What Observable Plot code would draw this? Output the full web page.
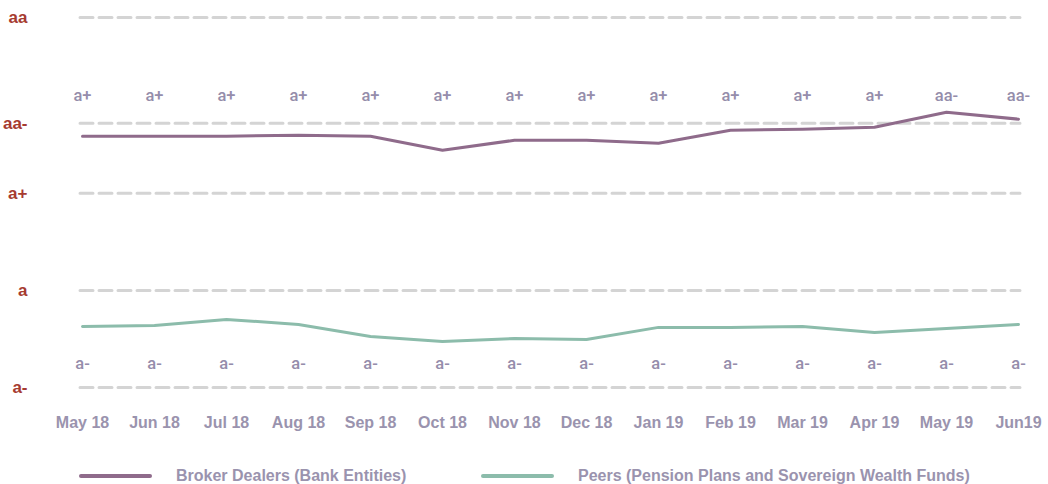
<!DOCTYPE html>
<html>
<head>
<meta charset="utf-8">
<script src="https://cdn.jsdelivr.net/npm/d3@7"></script>
<script src="https://cdn.jsdelivr.net/npm/@observablehq/plot@0.6"></script>
<style>
  html, body { margin: 0; padding: 0; background: #fff; }
  body { width: 1048px; height: 484px; overflow: hidden; font-family: "Liberation Sans", Arial, Helvetica, sans-serif; }
  #chart svg { display: block; }
  #legend { position: relative; height: 44px; }
  .lg { position: absolute; top: 26px; display: flex; align-items: center; font-weight: bold; font-size: 16px; color: #9a93ae; line-height: 20px; }
  .sw { width: 73px; height: 4px; border-radius: 2px; margin-right: 24px; }
</style>
</head>
<body>
<div id="chart"></div>
<div id="legend"></div>
<script>
const months = ["May 18","Jun 18","Jul 18","Aug 18","Sep 18","Oct 18","Nov 18","Dec 18","Jan 19","Feb 19","Mar 19","Apr 19","May 19","Jun19"];
const ratingLabels = ["a-","a","a+","aa-","aa"];
const ratingScores = [0, 1, 2, 2.72, 3.81];
const brokerValues = [2.588,2.588,2.588,2.598,2.588,2.443,2.546,2.546,2.515,2.649,2.660,2.680,2.835,2.763];
const brokerRatings = ["a+","a+","a+","a+","a+","a+","a+","a+","a+","a+","a+","a+","aa-","aa-"];
const peerValues = [0.629,0.639,0.701,0.649,0.526,0.474,0.505,0.495,0.619,0.619,0.629,0.567,0.608,0.649];
const peerRatings = ["a-","a-","a-","a-","a-","a-","a-","a-","a-","a-","a-","a-","a-","a-"];
const seriesNames = ["Broker Dealers (Bank Entities)", "Peers (Pension Plans and Sovereign Wealth Funds)"];
const seriesColors = ["#8f6b8b", "#8cbcab"];
const labelRows = [3.0, 0.24];

const broker = months.map((m, i) => ({month: m, value: brokerValues[i], rating: brokerRatings[i]}));
const peers = months.map((m, i) => ({month: m, value: peerValues[i], rating: peerRatings[i]}));

const chart = Plot.plot({
  width: 1048,
  height: 440,
  marginLeft: 80,
  marginRight: 28,
  marginTop: 17,
  marginBottom: 53,
  style: {fontFamily: '"Liberation Sans", Arial, Helvetica, sans-serif', background: "#fff"},
  x: {type: "point", domain: months, padding: 0, label: null},
  y: {domain: [0, 3.81], label: null},
  marks: [
    Plot.ruleY(ratingScores, {stroke: "#d4d4d4", strokeWidth: 3, strokeDasharray: "13,6", strokeLinecap: "round"}),
    Plot.axisY({ticks: ratingScores, tickFormat: (d) => ratingLabels[ratingScores.indexOf(d)], tickSize: 0, tickPadding: 53, fontSize: 17, fontWeight: "bold", fill: "#a63b30", label: null}),
    Plot.axisX({tickSize: 0, tickPadding: 29, fontSize: 16, fontWeight: "bold", fill: "#9a93ae", label: null}),
    Plot.line(broker, {x: "month", y: "value", stroke: seriesColors[0], strokeWidth: 3}),
    Plot.line(peers, {x: "month", y: "value", stroke: seriesColors[1], strokeWidth: 3}),
    Plot.text(broker, {x: "month", y: () => labelRows[0], text: "rating", fill: "#958dab", fontSize: 16.5, fontWeight: 500, fontFamily: "Roboto"}),
    Plot.text(peers, {x: "month", y: () => labelRows[1], text: "rating", fill: "#958dab", fontSize: 16.5, fontWeight: 500, fontFamily: "Roboto"})
  ]
});
document.getElementById("chart").appendChild(chart);

const legend = document.getElementById("legend");
const lefts = [79, 481];
seriesNames.forEach((name, i) => {
  const item = document.createElement("div");
  item.className = "lg";
  item.style.left = lefts[i] + "px";
  item.innerHTML = `<span class="sw" style="background:${seriesColors[i]}"></span><span>${name}</span>`;
  legend.appendChild(item);
});
</script>
</body>
</html>
